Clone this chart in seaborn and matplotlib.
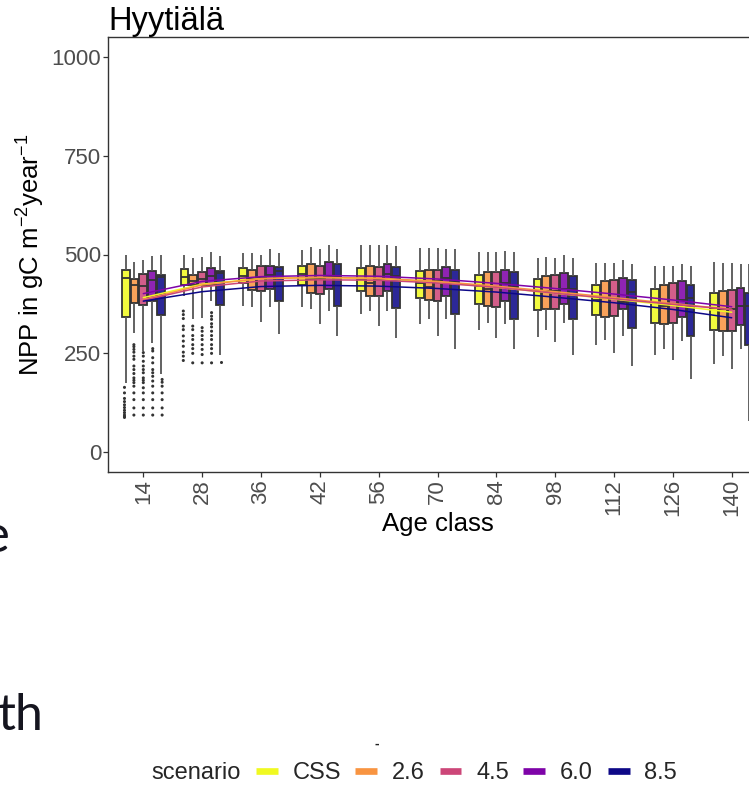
import numpy as np
import pandas as pd
import matplotlib
matplotlib.use("Agg")
import matplotlib.pyplot as plt
from matplotlib.lines import Line2D
import matplotlib.colors as mcolors
import seaborn as sns

# ---------------- data ----------------
ages = ["14", "28", "36", "42", "56", "70", "84", "98", "112", "126", "140"]
scenarios = ["CSS", "2.6", "4.5", "6.0", "8.5"]
colors = ["#F0F921", "#F89441", "#CC4678", "#7E03A8", "#0D0887"]

# box statistics per age class, columns = CSS, 2.6, 4.5, 6.0, 8.5
whisker_hi = [
    [500, 481, 486, 496, 500],
    [500, 490, 494, 507, 496],
    [503, 504, 498, 513, 504],
    [511, 520, 515, 525, 515],
    [523, 523, 523, 525, 521],
    [517, 517, 517, 515, 515],
    [506, 506, 506, 509, 506],
    [492, 494, 492, 498, 492],
    [479, 479, 479, 485, 477],
    [472, 472, 472, 475, 471],
    [481, 479, 479, 477, 477],
]
upper_q = [
    [460, 439, 451, 458, 447],
    [464, 447, 456, 465, 458],
    [466, 462, 471, 472, 469],
    [471, 475, 472, 482, 477],
    [466, 471, 469, 477, 469],
    [458, 460, 460, 469, 462],
    [448, 456, 456, 462, 456],
    [437, 445, 447, 452, 445],
    [424, 434, 435, 441, 435],
    [413, 424, 429, 433, 422],
    [403, 407, 409, 416, 403],
]
median = [
    [440, 424, 420, 436, 442],
    [444, 432, 437, 445, 452],
    [445, 437, 441, 447, 458],
    [450, 437, 439, 445, 445],
    [437, 427, 439, 450, 445],
    [429, 418, 433, 441, 433],
    [420, 412, 418, 427, 418],
    [407, 407, 407, 413, 413],
    [386, 391, 391, 380, 405],
    [378, 369, 374, 386, 391],
    [365, 361, 361, 369, 369],
]
lower_q = [
    [343, 377, 373, 382, 346],
    [422, 424, 424, 424, 372],
    [429, 409, 407, 413, 382],
    [424, 402, 399, 412, 369],
    [407, 395, 395, 407, 364],
    [391, 384, 382, 395, 350],
    [374, 369, 368, 382, 337],
    [359, 361, 361, 376, 337],
    [346, 343, 344, 361, 315],
    [327, 325, 326, 342, 295],
    [308, 306, 306, 321, 272],
]
whisker_lo = [
    [176, 302, 256, 277, 197],
    [395, 336, 340, 382, 247],
    [371, 368, 329, 368, 300],
    [367, 363, 323, 358, 293],
    [350, 358, 319, 357, 289],
    [323, 336, 295, 336, 262],
    [309, 327, 290, 325, 262],
    [291, 309, 278, 326, 245],
    [270, 283, 250, 295, 218],
    [247, 262, 232, 281, 186],
    [222, 243, 211, 260, 80],
]

# outlying points
outliers_14 = {
    "CSS": [164, 150, 136, 128, 120, 113, 106, 100, 94, 90, 88],
    "2.6": [272, 267, 260, 253, 243, 235, 218, 209, 199, 188, 182, 176, 167, 150, 133, 112, 94],
    "4.5": [252, 243, 230, 218, 209, 201, 188, 182, 176, 163, 150, 133, 112, 94],
    "6.0": [262, 256, 239, 226, 209, 201, 192, 180, 167, 150, 133, 112, 94],
    "8.5": [184, 177, 167, 150, 133, 112, 94],
}
outliers_28 = {
    "CSS": [357, 348, 338, 319, 310, 294, 281, 268, 253, 243, 232],
    "2.6": [319, 310, 295, 285, 272, 262, 250, 226],
    "4.5": [315, 306, 295, 285, 272, 260, 247, 226],
    "6.0": [353, 344, 336, 325, 317, 306, 295, 285, 272, 262, 250, 226],
    "8.5": [228],
}

# smoothed trend per scenario (value at each age class)
trend_css = [391, 425, 439, 442, 439, 430, 417, 402, 387, 371, 354]
trend_26 = [386, 423, 439, 442, 440, 432, 420, 406, 391, 376, 361]
trend_45 = [384, 418, 433, 436, 435, 428, 417, 402, 388, 374, 361]
trend_60 = [401, 432, 444, 447, 445, 438, 427, 414, 400, 385, 368]
trend_85 = [382, 406, 419, 422, 420, 414, 405, 392, 378, 361, 340]
trends = {"CSS": trend_css, "2.6": trend_26, "4.5": trend_45, "6.0": trend_60, "8.5": trend_85}

yticks = [0, 250, 500, 750, 1000]

# ---------------- tables ----------------
rows = []
for i, a in enumerate(ages):
    for j, s in enumerate(scenarios):
        for v in (whisker_lo[i][j], lower_q[i][j], median[i][j], upper_q[i][j], whisker_hi[i][j]):
            rows.append((a, s, v))
box_df = pd.DataFrame(rows, columns=["age", "scenario", "npp"])

orows = []
for a, d in (("14", outliers_14), ("28", outliers_28)):
    for s, vals in d.items():
        for v in vals:
            orows.append((a, s, v))
out_df = pd.DataFrame(orows, columns=["age", "scenario", "npp"])

trows = []
for s in scenarios:
    for i, v in enumerate(trends[s]):
        trows.append((i, s, v))
trend_df = pd.DataFrame(trows, columns=["pos", "scenario", "npp"])

# ---------------- style ----------------
sns.set_style("ticks")
plt.rcParams["font.family"] = ["Liberation Sans", "DejaVu Sans"]
plt.rcParams["mathtext.fontset"] = "custom"
plt.rcParams["mathtext.rm"] = "Liberation Sans"
plt.rcParams["mathtext.it"] = "Liberation Sans:italic"
plt.rcParams["mathtext.bf"] = "Liberation Sans:bold"

fill_colors = []
for c in colors:
    rgb = np.array(mcolors.to_rgb(c))
    fill_colors.append(tuple(rgb * 0.87 + 0.13))

W, H = 749, 792
fig = plt.figure(figsize=(W / 100, H / 100), dpi=100)
ax_left, ax_right, ax_top, ax_bottom = 108, 767, 37, 472
ax = fig.add_axes([ax_left / W, 1 - ax_bottom / H, (ax_right - ax_left) / W, (ax_bottom - ax_top) / H])

sns.boxplot(data=box_df, x="age", y="npp", hue="scenario", order=ages, hue_order=scenarios,
            palette=fill_colors, whis=(0, 100), width=0.75, gap=0.1, linewidth=1.3,
            linecolor="#333333", saturation=1, showfliers=False, showcaps=False,
            whiskerprops=dict(color="#555555", linewidth=1.3),
            legend=False, ax=ax)

sns.stripplot(data=out_df, x="age", y="npp", hue="scenario", order=ages, hue_order=scenarios,
              dodge=True, jitter=False, palette=["#333333"] * 5, size=2.2, linewidth=0,
              legend=False, ax=ax)

sns.lineplot(data=trend_df, x="pos", y="npp", hue="scenario", hue_order=scenarios,
             palette=colors, linewidth=1.1, legend=False, ax=ax, zorder=6)

ax.set_xlim(-0.6, 10.6)
ax.set_ylim(-50, 1050)
ax.set_yticks(yticks)
ax.set_xticks(range(len(ages)))
ax.set_xticklabels(ages)
ax.tick_params(axis="x", labelrotation=90)
ax.tick_params(axis="both", colors="#333333", labelcolor="#4D4D4D", labelsize=16,
               length=3.5, width=0.9, pad=1.5)
for side in ("left", "top", "bottom"):
    ax.spines[side].set_color("#333333")
    ax.spines[side].set_linewidth(1.0)
ax.spines["right"].set_visible(False)
ax.grid(False)

ax.set_xlabel("Age class", fontsize=18.5, color="black", labelpad=-3)
ax.set_ylabel(r"NPP in gC m$^{-2}$year$^{-1}$", fontsize=18.5, color="black", labelpad=3)
ax.set_title("Hyytiälä", loc="left", fontsize=23.5, color="black", pad=5)

# legend (title inline on the left)
handles = [Line2D([], [], color="none", lw=0)]
labels = ["scenario"]
for s, c in zip(scenarios, colors):
    handles.append(Line2D([], [], color=c, lw=4.8, solid_capstyle="butt"))
    labels.append(s)
fig.legend(handles, labels, ncol=6, loc="center", bbox_to_anchor=(396 / W, 1 - 773 / H),
           frameon=False, fontsize=17, handlelength=0.93, handletextpad=0.62,
           columnspacing=0.62, borderpad=0, borderaxespad=0)

# stray text fragments from the surrounding slide
fig.text(-18 / W, 1 - 552 / H, "e", fontsize=38, family=["Lato", "DejaVu Sans"],
         color="#15151f", va="baseline", ha="left")
fig.text(-2 / W, 1 - 730 / H, "th", fontsize=36, family=["Lato", "DejaVu Sans"],
         color="#15151f", va="baseline", ha="left")
fig.text(377 / W, 1 - 744 / H, "-", fontsize=10, fontweight="bold", color="#222222",
         ha="center", va="center")

fig.savefig("out.png", dpi=100)
